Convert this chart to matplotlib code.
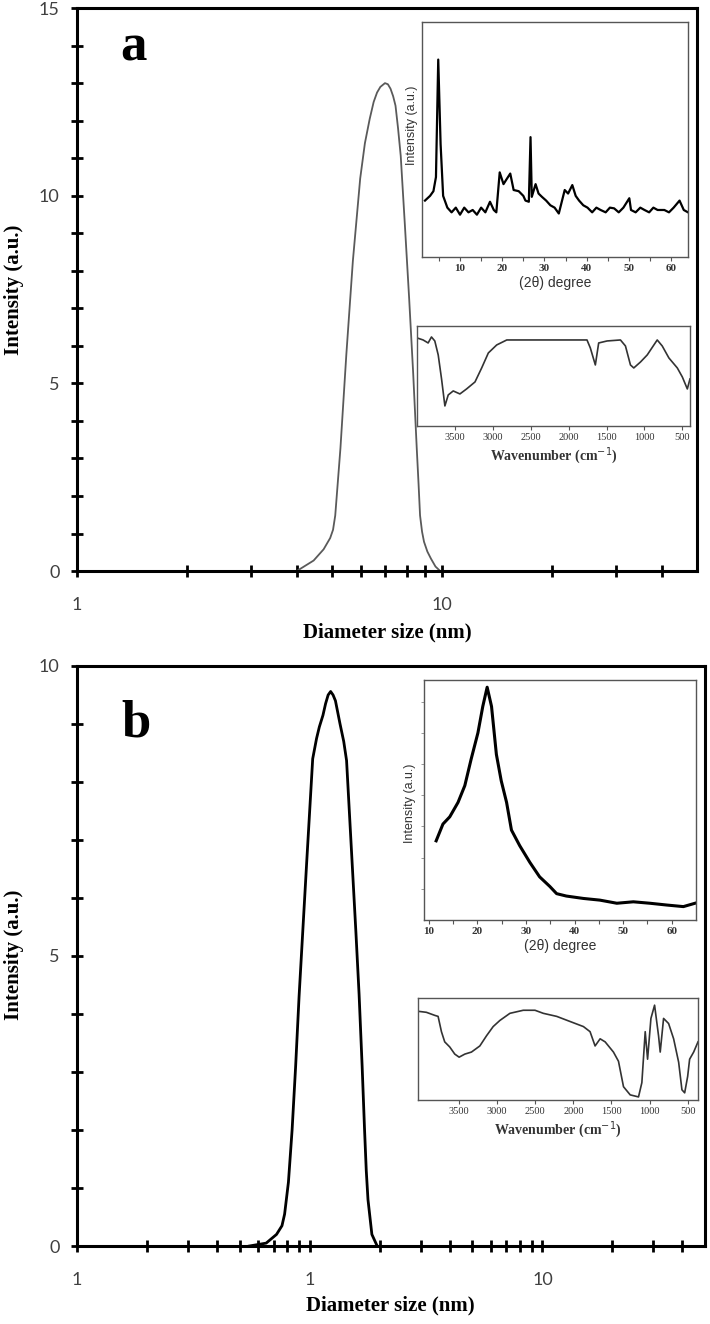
import matplotlib
matplotlib.use("Agg")
import matplotlib.pyplot as plt
from matplotlib.ticker import FixedLocator, NullFormatter, FixedFormatter

# ---- data ----
# panel a, size distribution (nm, a.u.)
size_a = [4.0, 4.45, 4.74, 4.94, 5.03, 5.10, 5.27, 5.47, 5.70, 5.97, 6.15, 6.34, 6.50,
          6.64, 6.78, 6.98, 7.11, 7.23, 7.35, 7.46, 7.58, 7.71, 7.91, 8.13, 8.34,
          8.53, 8.63, 8.71, 8.82, 8.93, 9.12, 9.33, 9.60, 9.89]
int_a = [0.0, 0.28, 0.58, 0.88, 1.1, 1.48, 3.27, 5.77, 8.26, 10.46, 11.4, 12.05, 12.5,
         12.75, 12.9, 13.0, 12.97, 12.85, 12.65, 12.4, 11.8, 11.06, 9.26, 7.27,
         5.27, 3.27, 2.3, 1.48, 1.05, 0.78, 0.52, 0.33, 0.12, 0.0]

# panel b, size distribution
size_b = [0.55, 0.65, 0.72, 0.76, 0.78, 0.81, 0.84, 0.87, 0.90, 0.97, 1.03, 1.07,
          1.10, 1.14, 1.17, 1.20, 1.23, 1.26, 1.29, 1.35, 1.40, 1.44, 1.52, 1.58,
          1.63, 1.68, 1.72, 1.75, 1.78, 1.85, 1.95]
int_b = [0.0, 0.05, 0.2, 0.35, 0.55, 1.1, 2.0, 3.1, 4.3, 6.6, 8.4, 8.75, 8.95, 9.15,
         9.35, 9.5, 9.56, 9.5, 9.4, 9.0, 8.7, 8.37, 6.64, 5.4, 4.34, 3.1, 2.02, 1.3,
         0.8, 0.2, 0.0]

# XRD inset a (2theta, relative intensity)
xrd_a_x = [1.7, 2.9, 3.7, 4.3, 4.84, 5.4, 6.0, 7.0, 8.0, 9.0, 10.0, 11.0, 12.0, 13.0,
           14.0, 15.0, 16.0, 17.1, 18.0, 18.6, 19.4, 20.3, 21.0, 21.9, 22.7, 23.9,
           25.0, 25.5, 26.3, 26.7, 27.0, 27.9, 28.6, 29.4, 30.4, 31.4, 32.4, 33.4,
           34.8, 35.6, 36.6, 37.4, 38.2, 39.2, 40.2, 41.3, 42.3, 43.3, 44.5, 45.5,
           46.5, 47.6, 48.7, 50.1, 50.5, 51.6, 52.7, 53.7, 54.8, 55.8, 56.8, 58.4,
           59.5, 60.6, 62.0, 63.0, 64.0]
xrd_a_y = [0.24, 0.26, 0.28, 0.34, 0.84, 0.48, 0.26, 0.21, 0.19, 0.21, 0.18, 0.21, 0.19,
           0.20, 0.18, 0.21, 0.19, 0.235, 0.20, 0.19, 0.36, 0.31, 0.33, 0.355, 0.285,
           0.28, 0.26, 0.24, 0.235, 0.51, 0.256, 0.31, 0.27, 0.256, 0.24, 0.22, 0.21,
           0.185, 0.285, 0.27, 0.306, 0.26, 0.24, 0.22, 0.21, 0.19, 0.21, 0.20, 0.19,
           0.21, 0.207, 0.19, 0.21, 0.25, 0.20, 0.19, 0.21, 0.20, 0.19, 0.21, 0.20,
           0.20, 0.19, 0.21, 0.24, 0.20, 0.19]

# FTIR inset a (wavenumber, transmittance)
ftir_a_x = [3998, 3919, 3853, 3809, 3765, 3720, 3676, 3632, 3588, 3522, 3434, 3346,
            3235, 3147, 3059, 2949, 2816, 2331, 1758, 1714, 1648, 1604, 1493, 1317,
            1251, 1185, 1141, 1052, 964, 832, 766, 678, 567, 501, 435, 400]
ftir_a_y = [0.88, 0.86, 0.83, 0.89, 0.85, 0.71, 0.47, 0.20, 0.31, 0.35, 0.32, 0.37,
            0.44, 0.58, 0.73, 0.81, 0.86, 0.86, 0.86, 0.78, 0.61, 0.83, 0.85, 0.86,
            0.80, 0.61, 0.58, 0.64, 0.71, 0.86, 0.80, 0.68, 0.58, 0.49, 0.37, 0.47]

# XRD inset b
xrd_b_x = [11.5, 12.9, 14.3, 16.0, 17.4, 18.7, 20.1, 21.1, 22.0, 22.9, 23.9, 24.9,
           26.0, 27.0, 28.7, 30.8, 32.8, 34.9, 36.3, 38.3, 41.8, 45.2, 48.7, 52.1,
           55.5, 59.0, 62.4, 64.8]
xrd_b_y = [0.33, 0.40, 0.43, 0.49, 0.56, 0.67, 0.78, 0.89, 0.97, 0.89, 0.69, 0.58,
           0.49, 0.375, 0.31, 0.24, 0.18, 0.14, 0.11, 0.10, 0.09, 0.083, 0.07, 0.076,
           0.07, 0.0625, 0.056, 0.07]

# FTIR inset b
ftir_b_x = [4039, 3930, 3820, 3776, 3732, 3689, 3623, 3557, 3500, 3425, 3338, 3228,
            3140, 3053, 2965, 2833, 2658, 2504, 2395, 2219, 2044, 1868, 1781, 1715,
            1649, 1583, 1474, 1408, 1342, 1254, 1145, 1101, 1057, 1026, 982, 934,
            882, 860, 816, 750, 684, 618, 575, 539, 500, 474, 421, 364]
ftir_b_y = [0.87, 0.86, 0.83, 0.82, 0.67, 0.57, 0.52, 0.45, 0.42, 0.45, 0.47, 0.53,
            0.63, 0.72, 0.78, 0.85, 0.88, 0.88, 0.85, 0.82, 0.77, 0.72, 0.67, 0.53,
            0.60, 0.57, 0.47, 0.38, 0.13, 0.05, 0.03, 0.17, 0.67, 0.40, 0.80, 0.93,
            0.63, 0.47, 0.80, 0.75, 0.60, 0.37, 0.10, 0.07, 0.23, 0.40, 0.47, 0.57]

serif = "Liberation Serif"
tickcol = "#404040"

fig = plt.figure(figsize=(7.1, 13.24), dpi=100)


def main_axes(rect, xlim, ylim, ymajor, yminor, xmajor, xlabels, xminor):
    ax = fig.add_axes(rect)
    ax.set_xscale("log")
    ax.set_xlim(*xlim)
    ax.set_ylim(*ylim)
    for s in ax.spines.values():
        s.set_linewidth(2.2)
    ax.xaxis.set_major_locator(FixedLocator(xmajor))
    ax.xaxis.set_major_formatter(FixedFormatter(xlabels))
    ax.xaxis.set_minor_locator(FixedLocator(xminor))
    ax.xaxis.set_minor_formatter(NullFormatter())
    ax.yaxis.set_major_locator(FixedLocator(ymajor))
    ax.yaxis.set_minor_locator(FixedLocator(yminor))
    ax.tick_params(which="both", direction="inout", length=9, width=2,
                   top=False, right=False)
    ax.tick_params(axis="x", which="major", pad=14)
    ax.tick_params(axis="y", which="major", pad=8)
    for lab in ax.get_xticklabels() + ax.get_yticklabels():
        lab.set_fontfamily("Lato")
        lab.set_fontsize(13)
        lab.set_color(tickcol)
    return ax


# panel a
axa = main_axes([0.1085, 0.5687, 0.8732, 0.4252], (1, 50), (0, 15),
                [0, 5, 10, 15], [1, 2, 3, 4, 6, 7, 8, 9, 11, 12, 13, 14],
                [1, 10], ["1", "10"], [2, 3, 4, 5, 6, 7, 8, 9, 20, 30, 40])
axa.plot(size_a, int_a, color="#5a5a5a", lw=1.3)
axa.text(0.07, 0.93, "a", transform=axa.transAxes, fontsize=38,
         fontweight="bold", family=serif, va="center", ha="left")
fig.text(0.545, 1 - 632 / 1324, "Diameter size (nm)", ha="center", va="center",
         fontsize=15, fontweight="bold", family=serif)
fig.text(0.02, 0.7808, "Intensity (a.u.)", rotation=90, ha="center",
         va="center", fontsize=15, fontweight="bold", family=serif)

# panel b
axb = main_axes([0.1085, 0.0589, 0.8845, 0.4381], (0.1, 50), (0, 10),
                [0, 5, 10], [1, 2, 3, 4, 6, 7, 8, 9],
                [0.1, 1, 10], ["1", "1", "10"],
                [0.2, 0.3, 0.4, 0.5, 0.6, 0.7, 0.8, 0.9, 2, 3, 4, 5, 6, 7, 8, 9,
                 20, 30, 40])
axb.plot(size_b, int_b, color="black", lw=2)
axb.text(0.07, 0.9, "b", transform=axb.transAxes, fontsize=38,
         fontweight="bold", family=serif, va="center", ha="left")
fig.text(0.55, 1 - 1305 / 1324, "Diameter size (nm)", ha="center", va="center",
         fontsize=15, fontweight="bold", family=serif)
fig.text(0.02, 1 - 955 / 1324, "Intensity (a.u.)", rotation=90, ha="center",
         va="center", fontsize=15, fontweight="bold", family=serif)


def inset(rect):
    ax = fig.add_axes(rect)
    for s in ax.spines.values():
        s.set_linewidth(1.0)
        s.set_color("#555555")
    ax.set_ylim(0, 1)
    ax.set_yticks([])
    ax.tick_params(axis="x", which="both", direction="out", length=3,
                   width=0.8, color="#555555", pad=2)
    return ax


# XRD a
xa = inset([0.5944, 0.8059, 0.3746, 0.1775])
xa.plot(xrd_a_x, xrd_a_y, color="black", lw=1.6)
xa.set_xlim(1, 64)
xa.set_xticks([10, 20, 30, 40, 50, 60])
xa.set_xticks([5, 15, 25, 35, 45, 55], minor=True)
xa.set_xticklabels(["10", "20", "30", "40", "50", "60"], family=serif,
                   fontsize=8, fontweight="bold", color="#333333")
xa.set_xlabel("(2\u03b8) degree", family="Liberation Sans", fontsize=10,
              color="#333333", labelpad=2)
fig.text(412 / 710, 1 - 125 / 1324, "Intensity (a.u.)", rotation=90,
         ha="center", va="center", family="Liberation Sans", fontsize=9,
         color="#333333")

# FTIR a
fa = inset([0.5873, 0.6783, 0.3845, 0.0755])
fa.plot(ftir_a_x, ftir_a_y, color="#333333", lw=1.2)
fa.set_xlim(4000, 400)
fa.set_xticks([3500, 3000, 2500, 2000, 1500, 1000, 500])
fa.set_xticklabels(["3500", "3000", "2500", "2000", "1500", "1000", "500"],
                   family=serif, fontsize=7.5, color="#333333")
fa.set_xlabel("Wavenumber (cm$^{-1}$)", family=serif, fontsize=10,
              fontweight="bold", color="#333333", labelpad=2)

# XRD b
xb = inset([0.5972, 0.3051, 0.3831, 0.1813])
xb.plot(xrd_b_x, xrd_b_y, color="black", lw=2.2)
xb.set_xlim(9, 65)
xb.set_yticks([0.13, 0.26, 0.39, 0.52, 0.65, 0.78, 0.91])
xb.tick_params(axis="y", direction="out", length=2, width=0.6,
               color="#888888", labelleft=False)
xb.set_xticks([10, 20, 30, 40, 50, 60])
xb.set_xticks([15, 25, 35, 45, 55], minor=True)
xb.set_xticklabels(["10", "20", "30", "40", "50", "60"], family=serif,
                   fontsize=8, fontweight="bold", color="#333333")
xb.set_xlabel("(2\u03b8) degree", family="Liberation Sans", fontsize=10,
              color="#333333", labelpad=2)
fig.text(410 / 710, 1 - 803 / 1324, "Intensity (a.u.)", rotation=90,
         ha="center", va="center", family="Liberation Sans", fontsize=9,
         color="#333333")

# FTIR b
fb = inset([0.5887, 0.1692, 0.3944, 0.0770])
fb.plot(ftir_b_x, ftir_b_y, color="#333333", lw=1.2)
fb.set_xlim(4040, 364)
fb.set_xticks([3500, 3000, 2500, 2000, 1500, 1000, 500])
fb.set_xticklabels(["3500", "3000", "2500", "2000", "1500", "1000", "500"],
                   family=serif, fontsize=7.5, color="#333333")
fb.set_xlabel("Wavenumber (cm$^{-1}$)", family=serif, fontsize=10,
              fontweight="bold", color="#333333", labelpad=2)

fig.savefig("out.png", dpi=100)
